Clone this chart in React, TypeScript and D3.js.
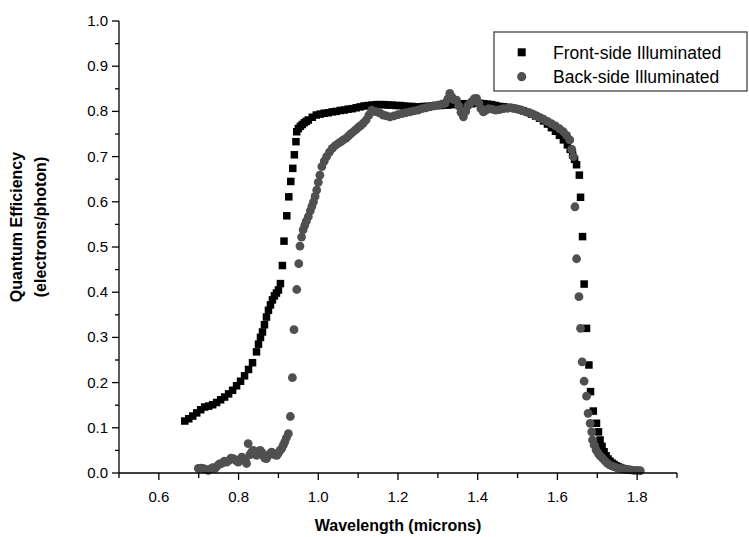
import React from "react";
import * as d3 from "d3";

// Front-side illuminated (squares)
const frontWavelength = [
  0.665, 0.675, 0.685, 0.695, 0.705, 0.715, 0.725, 0.735, 0.745, 0.755, 0.765, 0.775, 0.785, 0.795,
  0.805, 0.815, 0.825, 0.835, 0.845, 0.85, 0.855, 0.86, 0.865, 0.87, 0.875, 0.88, 0.885, 0.89, 0.895,
  0.9, 0.905, 0.91, 0.914, 0.921, 0.926, 0.931, 0.936, 0.94, 0.944, 0.946, 0.95, 0.955, 0.96, 0.965,
  0.97, 0.975, 0.985, 0.995, 1.005, 1.015, 1.025, 1.035, 1.045, 1.055, 1.065, 1.075, 1.085, 1.095,
  1.105, 1.115, 1.125, 1.135, 1.145, 1.155, 1.165, 1.175, 1.185, 1.195, 1.205, 1.215, 1.225, 1.235,
  1.245, 1.255, 1.265, 1.275, 1.285, 1.295, 1.305, 1.315, 1.325, 1.335, 1.345, 1.355, 1.365, 1.375,
  1.385, 1.395, 1.405, 1.415, 1.425, 1.435, 1.445, 1.455, 1.465, 1.475, 1.485, 1.495, 1.505, 1.515,
  1.525, 1.535, 1.545, 1.555, 1.565, 1.575, 1.585, 1.595, 1.605, 1.615, 1.625, 1.632, 1.638, 1.643,
  1.648, 1.655, 1.658, 1.663, 1.667, 1.673, 1.679, 1.683, 1.69, 1.698, 1.703, 1.707, 1.712, 1.717,
  1.722, 1.727, 1.732, 1.737, 1.742, 1.747, 1.752, 1.757, 1.762, 1.767, 1.772, 1.777,
];
const frontQE = [
  0.115, 0.12, 0.126, 0.133, 0.14, 0.146, 0.148, 0.151, 0.156, 0.162, 0.168, 0.175, 0.183, 0.193,
  0.203, 0.215, 0.229, 0.244, 0.268, 0.285, 0.3, 0.312, 0.328, 0.345, 0.36, 0.372, 0.383, 0.392, 0.398,
  0.405, 0.419, 0.459, 0.513, 0.569, 0.611, 0.645, 0.674, 0.704, 0.733, 0.755, 0.762, 0.767, 0.771, 0.775,
  0.778, 0.781, 0.787, 0.792, 0.794, 0.796, 0.797, 0.799, 0.8, 0.802, 0.803, 0.805, 0.806, 0.808,
  0.81, 0.812, 0.813, 0.814, 0.815, 0.815, 0.815, 0.814, 0.814, 0.813, 0.813, 0.812, 0.811, 0.811,
  0.81, 0.81, 0.811, 0.811, 0.812, 0.813, 0.813, 0.814, 0.814, 0.815, 0.816, 0.816, 0.817, 0.817,
  0.817, 0.818, 0.818, 0.817, 0.816, 0.815, 0.813, 0.811, 0.81, 0.809, 0.808, 0.806, 0.804, 0.801,
  0.798, 0.794, 0.79, 0.785, 0.779, 0.772, 0.764, 0.756, 0.747, 0.737, 0.726, 0.716, 0.704, 0.694,
  0.682, 0.659, 0.61, 0.523, 0.418, 0.32, 0.239, 0.18, 0.137, 0.11, 0.091, 0.073, 0.059, 0.047,
  0.038, 0.031, 0.026, 0.022, 0.019, 0.016, 0.014, 0.012, 0.01, 0.009, 0.008, 0.007,
];

// Back-side illuminated (circles)
const backWavelength = [
  0.699, 0.705, 0.711, 0.717, 0.724, 0.73, 0.735, 0.741, 0.747, 0.752, 0.758, 0.764, 0.77, 0.776,
  0.781, 0.787, 0.793, 0.799, 0.804, 0.808, 0.813, 0.818, 0.82, 0.824, 0.828, 0.833, 0.837, 0.841,
  0.845, 0.85, 0.854, 0.858, 0.862, 0.866, 0.87, 0.874, 0.879, 0.883, 0.887, 0.891, 0.896, 0.9,
  0.904, 0.908, 0.912, 0.916, 0.92, 0.925, 0.93, 0.935, 0.939, 0.946, 0.951, 0.954, 0.958, 0.962,
  0.966, 0.97, 0.975, 0.98, 0.984, 0.988, 0.992, 0.996, 1.0, 1.004, 1.009, 1.015, 1.021, 1.028,
  1.035, 1.042, 1.05, 1.057, 1.063, 1.07, 1.076, 1.082, 1.088, 1.095, 1.101, 1.107, 1.113, 1.12,
  1.127, 1.134, 1.14, 1.147, 1.155, 1.163, 1.171, 1.18, 1.19, 1.2, 1.21, 1.22, 1.23, 1.24, 1.25,
  1.26, 1.27, 1.28, 1.29, 1.3, 1.31, 1.318, 1.325, 1.33, 1.335, 1.34, 1.347, 1.352, 1.358, 1.364,
  1.37, 1.375, 1.381, 1.386, 1.391, 1.397, 1.403, 1.408, 1.414, 1.42, 1.428, 1.436, 1.445, 1.455,
  1.465, 1.475, 1.485, 1.495, 1.505, 1.515, 1.525, 1.535, 1.545, 1.555, 1.565, 1.575, 1.585, 1.595,
  1.605, 1.615, 1.623, 1.631, 1.636, 1.64, 1.644, 1.648, 1.654, 1.658, 1.662, 1.667, 1.673, 1.677,
  1.682, 1.686, 1.688, 1.692, 1.697, 1.702, 1.707, 1.713, 1.719, 1.725, 1.731, 1.738, 1.745, 1.752,
  1.76, 1.768, 1.776, 1.784, 1.792, 1.8, 1.808,
];
const backQE = [
  0.01, 0.011, 0.01, 0.008, 0.006, 0.009, 0.012, 0.01, 0.016, 0.02, 0.021, 0.026, 0.024, 0.028,
  0.033, 0.032, 0.028, 0.024, 0.03, 0.035, 0.03, 0.025, 0.021, 0.065, 0.04, 0.047, 0.05, 0.044,
  0.039, 0.045, 0.05, 0.046, 0.038, 0.033, 0.032, 0.038, 0.043, 0.046, 0.044, 0.04, 0.039, 0.044,
  0.05, 0.054, 0.061, 0.069, 0.078, 0.087, 0.125, 0.211, 0.317, 0.406, 0.463, 0.502, 0.522, 0.538,
  0.548, 0.557, 0.567, 0.58, 0.59, 0.6, 0.612, 0.626, 0.643, 0.659, 0.678, 0.69, 0.7, 0.71,
  0.718, 0.724, 0.729, 0.733, 0.737, 0.741, 0.746, 0.751, 0.755, 0.76, 0.765, 0.769, 0.774, 0.781,
  0.792, 0.803, 0.8, 0.799, 0.796, 0.792, 0.79, 0.788, 0.79, 0.793, 0.795, 0.797, 0.799, 0.801, 0.803,
  0.806, 0.808, 0.81, 0.812, 0.814, 0.816, 0.818, 0.828, 0.84, 0.832, 0.826, 0.825, 0.812, 0.798, 0.788,
  0.8, 0.812, 0.818, 0.822, 0.828, 0.829, 0.818, 0.806, 0.799, 0.802, 0.806, 0.805, 0.803, 0.804,
  0.806, 0.807, 0.808, 0.806, 0.804, 0.801, 0.798, 0.795, 0.791, 0.787, 0.783, 0.778, 0.773, 0.768,
  0.762, 0.755, 0.747, 0.737, 0.716, 0.7, 0.589, 0.474, 0.39, 0.32, 0.246, 0.203, 0.17, 0.132,
  0.11, 0.091, 0.073, 0.062, 0.051, 0.044, 0.038, 0.033, 0.027, 0.022, 0.018, 0.015, 0.013, 0.011,
  0.01, 0.009, 0.008, 0.007, 0.006, 0.006, 0.005,
];

const xMajorTicks = [0.6, 0.8, 1.0, 1.2, 1.4, 1.6, 1.8];
const xMinorTicks = [0.5, 0.7, 0.9, 1.1, 1.3, 1.5, 1.7, 1.9];
const yMajorTicks = [0.0, 0.1, 0.2, 0.3, 0.4, 0.5, 0.6, 0.7, 0.8, 0.9, 1.0];
const yMinorTicks = [0.05, 0.15, 0.25, 0.35, 0.45, 0.55, 0.65, 0.75, 0.85, 0.95];
const seriesNames = ["Front-side Illuminated", "Back-side Illuminated"];
const xTitle = "Wavelength (microns)";
const yTitleLines = ["Quantum Efficiency", "(electrons/photon)"];

const FONT = "'Liberation Sans', Arial, Helvetica, sans-serif";
const W = 749;
const H = 537;
const left = 119, right = 677, top = 21, bottom = 473;
const frontColor = "#000000";
const backColor = "#505050";

export default function App() {
  const x = d3.scaleLinear().domain([0.5, 1.9]).range([left, right]);
  const y = d3.scaleLinear().domain([0, 1]).range([bottom, top]);
  const front = d3.zip(frontWavelength, frontQE);
  const back = d3.zip(backWavelength, backQE);
  const sq = 7.5;
  const r = 4.4;
  return (
    <svg
      width={W}
      height={H}
      style={{ position: "absolute", left: 0, top: 0, background: "#fff" }}
      fontFamily={FONT}
    >
      <rect x={0} y={0} width={W} height={H} fill="#fff" />
      <g>
        {front.map(([wx, wy], i) => (
          <rect key={"f" + i} x={x(wx) - sq / 2} y={y(wy) - sq / 2} width={sq} height={sq} fill={frontColor} />
        ))}
      </g>
      <g>
        {back.map(([wx, wy], i) => (
          <circle key={"b" + i} cx={x(wx)} cy={y(wy)} r={r} fill={backColor} />
        ))}
      </g>
      <g stroke="#000" strokeWidth={1.3}>
        <line x1={left} x2={right} y1={bottom} y2={bottom} />
        {xMajorTicks.map((t) => (
          <line key={"xM" + t} x1={x(t)} x2={x(t)} y1={bottom} y2={bottom + 7} />
        ))}
        {xMinorTicks.map((t) => (
          <line key={"xm" + t} x1={x(t)} x2={x(t)} y1={bottom} y2={bottom + 5} />
        ))}
        <line x1={left} x2={left} y1={top} y2={bottom} />
        {yMajorTicks.map((t) => (
          <line key={"yM" + t} x1={left - 7} x2={left} y1={y(t)} y2={y(t)} />
        ))}
        {yMinorTicks.map((t) => (
          <line key={"ym" + t} x1={left - 4} x2={left} y1={y(t)} y2={y(t)} />
        ))}
      </g>
      <g fontSize={15} fill="#000">
        {xMajorTicks.map((t) => (
          <text key={"xl" + t} x={x(t)} y={bottom + 29} textAnchor="middle">
            {d3.format(".1f")(t)}
          </text>
        ))}
        {yMajorTicks.map((t) => (
          <text key={"yl" + t} x={left - 11} y={y(t) + 5} textAnchor="end">
            {d3.format(".1f")(t)}
          </text>
        ))}
      </g>
      <text x={(left + right) / 2} y={531} textAnchor="middle" fontSize={16} fontWeight="bold">
        {xTitle}
      </text>
      <g transform="translate(0,227) rotate(-90)">
        <text x={0} y={22} textAnchor="middle" fontSize={16} fontWeight="bold">
          {yTitleLines[0]}
        </text>
        <text x={0} y={46} textAnchor="middle" fontSize={16} fontWeight="bold">
          {yTitleLines[1]}
        </text>
      </g>
      <g>
        <rect x={494} y={32} width={253} height={59} fill="#fff" stroke="#444" strokeWidth={1.3} />
        <rect x={521.7 - 4} y={52.3 - 4} width={8} height={8} fill={frontColor} />
        <circle cx={521.7} cy={76.7} r={4.6} fill={backColor} />
        <text x={553} y={58.5} fontSize={17.5} fill="#000">
          {seriesNames[0]}
        </text>
        <text x={553} y={83} fontSize={17.5} fill="#000">
          {seriesNames[1]}
        </text>
      </g>
    </svg>
  );
}
